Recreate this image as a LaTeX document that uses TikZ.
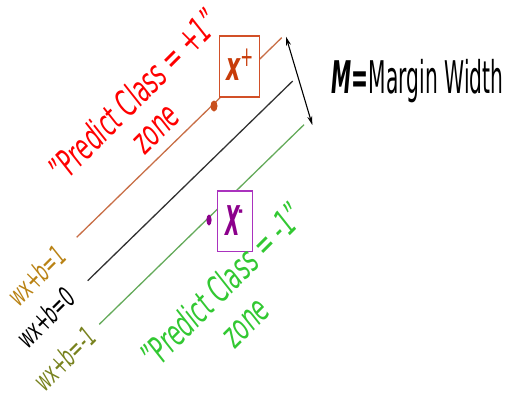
\documentclass[tikz,border=0pt]{standalone}
\usepackage{fontspec}
\setmainfont{DejaVu Sans}[ItalicFont={DejaVu Sans Oblique},BoldFont={DejaVu Sans Bold},BoldItalicFont={DejaVu Sans Bold Oblique}]
\usetikzlibrary{arrows.meta}
\definecolor{oline}{RGB}{200,110,70}
\definecolor{kline}{RGB}{50,50,50}
\definecolor{gline}{RGB}{100,170,90}
\definecolor{redtxt}{RGB}{255,0,0}
\definecolor{grntxt}{RGB}{50,200,50}
\definecolor{lblone}{RGB}{185,130,20}
\definecolor{lblmone}{RGB}{120,130,30}
\definecolor{xpbord}{RGB}{210,80,40}
\definecolor{xptext}{RGB}{200,60,10}
\definecolor{odot}{RGB}{200,80,30}
\definecolor{xmbord}{RGB}{170,50,190}
\definecolor{xmtext}{RGB}{140,0,140}
\begin{document}
\begin{tikzpicture}[x=1pt,y=-1pt,
  hyper/.style={line width=1.3pt},
  zonetxt/.style={inner sep=0pt, anchor=base, rotate=45, xscale=0.6, font=\fontsize{36}{40}\selectfont\itshape},
  eqlbl/.style={inner sep=0pt, anchor=base, rotate=45, xscale=0.57, font=\fontsize{28}{30}\selectfont\itshape},
  svbox/.style={fill=white, line width=1.2pt, inner sep=0pt}
]
\useasboundingbox (0,0) rectangle (508,410);
% hyperplanes
\coordinate (o1) at (76.7,237.3); \coordinate (o2) at (281.7,37.7);
\coordinate (k1) at (87.7,280.7); \coordinate (k2) at (292.7,81);
\coordinate (g1) at (99.3,324.3); \coordinate (g2) at (304,124.7);
\draw[hyper, oline] (o1) -- (o2);
\draw[hyper, kline] (k1) -- (k2);
\draw[hyper, gline] (g1) -- (g2);
% margin arrow
\coordinate (a1) at (286,36.7); \coordinate (a2) at (312.3,125);
\draw[line width=1.1pt, {Stealth[length=9pt,width=5pt]}-{Stealth[length=9pt,width=5pt]}] (a1) -- (a2);
% support vector boxes
\node[svbox, draw=xpbord, minimum width=40pt, minimum height=61pt] (xpbox) at (239.3,66.4) {};
\node[svbox, draw=xmbord, minimum width=35pt, minimum height=60.7pt] (xmbox) at (235.2,221.35) {};
% dots
\fill[odot] (214,106) ellipse [x radius=3.5, y radius=5.5];
\fill[xmtext] (209,220) ellipse [x radius=2.6, y radius=5.5];
% box texts
\node[inner sep=0pt, anchor=base west, xscale=0.55, text=xptext, font=\fontsize{40}{40}\selectfont] (xptxt) at (226,80) {\bfseries\itshape x\raisebox{14pt}{\fontsize{28}{28}\selectfont\mdseries\upshape +}};
\node[inner sep=0pt, anchor=base west, xscale=0.46, text=xmtext, font=\fontsize{41}{41}\selectfont] (xmtxt) at (225,235) {\bfseries\itshape X\kern-3pt\raisebox{17pt}{\fontsize{24}{24}\selectfont\upshape -}};
% margin label
\node[inner sep=0pt, anchor=base west, xscale=0.45, font=\fontsize{45}{45}\selectfont] (mw) at (331.7,93.3) {{\bfseries\itshape M}{\bfseries =}Margin Width};
% zone texts
\node[zonetxt, text=redtxt] (pz1) at (143,105) {"Predict Class = +1"};
\node[zonetxt, text=redtxt] (pz2) at (164,137) {zone};
\node[zonetxt, text=grntxt] (nz1) at (231,295) {"Predict Class = -1"};
\node[zonetxt, text=grntxt] (nz2) at (254,331) {zone};
% equation labels
\node[eqlbl, text=lblone] (l1) at (44,283) {wx+b=1};
\node[eqlbl, text=black] (l0) at (53,325) {wx+b=0};
\node[eqlbl, text=lblmone] (lm) at (72,366) {wx+b=-1};
\end{tikzpicture}
\end{document}
